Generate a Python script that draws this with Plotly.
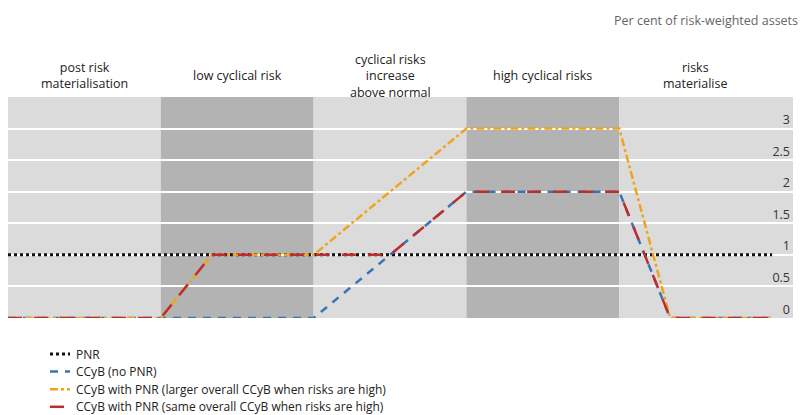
import plotly.graph_objects as go

# Phases of the financial cycle (one band each)
phases = [
    "post risk<br>materialisation",
    "low cyclical risk",
    "cyclical risks<br>increase<br>above normal",
    "high cyclical risks",
    "risks<br>materialise",
]

# Break points along the cycle, measured in phase widths
x_pnr = [0, 5]
y_pnr = [1, 1]

x_ccyb = [0, 1, 2, 3, 4, 4.333, 5]
y_ccyb = [0, 0, 0, 2, 2, 0, 0]

x_large = [0, 1, 1.333, 2, 3, 4, 4.333, 5]
y_large = [0, 0, 1, 1, 3, 3, 0, 0]

x_same = [0, 1, 1.333, 2, 2.5, 3, 4, 4.333, 5]
y_same = [0, 0, 1, 1, 1, 2, 2, 0, 0]

series_names = [
    "PNR",
    "CCyB (no PNR)",
    "CCyB with PNR (larger overall CCyB when risks are high)",
    "CCyB with PNR (same overall CCyB when risks are high)",
]

y_ticks = [0, 0.5, 1, 1.5, 2, 2.5, 3]
y_tick_labels = ["0", "0.5", "1", "1.5", "2", "2.5", "3"]

X_MAX = 5.137
Y_MAX = 3.5
FONT = "Open Sans, DejaVu Sans, sans-serif"

W, H = 803, 415
M_L, M_R, M_T, M_B = 8, 10, 97, 97
PLOT_W = W - M_L - M_R
PLOT_H = H - M_T - M_B


def px_to_paper_x(px):
    return (px - M_L) / PLOT_W


def px_to_paper_y(py):
    return (H - M_B - py) / PLOT_H


styles = [
    dict(color="#111111", width=3, dash="3px,3px"),
    dict(color="#3C72B8", width=2.5, dash="8px,7px"),
    dict(color="#F0A41C", width=2.5, dash="8px,3px,3px,3px"),
    dict(color="#BE2D2D", width=2.5, dash="14px,12px"),
]
xs = [x_pnr, x_ccyb, x_large, x_same]
ys = [y_pnr, y_ccyb, y_large, y_same]

fig = go.Figure()

for name, x, y, st in zip(series_names, xs, ys, styles):
    fig.add_trace(go.Scatter(
        x=x, y=y, mode="lines", name=name, line=st, showlegend=False,
    ))

# Alternating background bands, one per phase; labels above each band
for i, label in enumerate(phases):
    x1 = i + 1 if i < len(phases) - 1 else X_MAX
    fig.add_shape(
        type="rect", xref="x", yref="y", x0=i, x1=x1, y0=0, y1=Y_MAX,
        fillcolor="#B3B3B3" if i % 2 else "#DBDBDB",
        line=dict(width=0), layer="below",
    )
    fig.add_annotation(
        x=i + 0.5, xref="x", y=1.097, yref="paper",
        text=label, showarrow=False, xanchor="center", yanchor="middle",
        font=dict(family=FONT, size=12.5, color="#222222"),
    )

# Compact key below the chart
key_top = 354
key_step = 17.6
for k, (name, st) in enumerate(zip(series_names, styles)):
    yk = px_to_paper_y(key_top + k * key_step)
    fig.add_shape(
        type="line", xref="paper", yref="paper",
        x0=px_to_paper_x(50), x1=px_to_paper_x(70), y0=yk, y1=yk,
        line=st,
    )
    fig.add_annotation(
        x=px_to_paper_x(74), xref="paper", y=yk, yref="paper",
        text=name, showarrow=False, xanchor="left", yanchor="middle",
        font=dict(family=FONT, size=12, color="#222222"),
    )

fig.add_annotation(
    x=1.009, xref="paper", y=1.348, yref="paper",
    text="Per cent of risk-weighted assets", showarrow=False,
    xanchor="right", yanchor="middle",
    font=dict(family=FONT, size=12.5, color="#666666"),
)

fig.update_layout(
    width=W, height=H,
    margin=dict(l=M_L, r=M_R, t=M_T, b=M_B, autoexpand=False),
    paper_bgcolor="white", plot_bgcolor="rgba(0,0,0,0)",
    font=dict(family=FONT, size=12, color="#222222"),
    showlegend=False,
    xaxis=dict(
        range=[0, X_MAX], showgrid=False, zeroline=False,
        showticklabels=False, ticks="", showline=False, fixedrange=True,
    ),
    yaxis=dict(
        range=[0, Y_MAX], side="right", tickvals=y_ticks, ticktext=y_tick_labels,
        ticklabelposition="inside top", ticks="",
        showgrid=True, gridcolor="white", gridwidth=1.5,
        zeroline=False, showline=False, fixedrange=True,
        tickfont=dict(family=FONT, size=12.5, color="#333333"),
    ),
)

fig.write_html("out.html")
